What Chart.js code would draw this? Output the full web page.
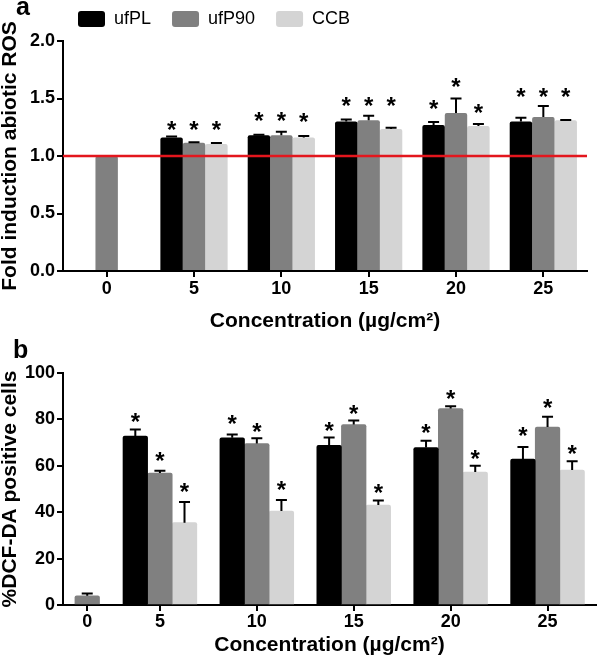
<!DOCTYPE html>
<html><head><meta charset="utf-8">
<script src="https://cdn.jsdelivr.net/npm/chart.js@4.4.0/dist/chart.umd.min.js"></script>
<style>
html,body{margin:0;padding:0;background:#fff;}
#wrap{position:relative;width:598px;height:665px;overflow:hidden;}
.pa{position:absolute;left:0;top:0;width:598px;height:334px;}
.pb{position:absolute;left:0;top:334px;width:598px;height:331px;}
</style></head><body>
<div id="wrap">
<div class="pa"><canvas id="ca"></canvas></div>
<div class="pb"><canvas id="cb"></canvas></div>
</div>
<script>
// ---------- data ----------
const seriesNames = ['ufPL', 'ufP90', 'CCB'];
const concentrations = ['0', '5', '10', '15', '20', '25'];

// Panel a: fold induction abiotic ROS
const ufPL_A  = [null, 1.16, 1.18, 1.30, 1.27, 1.30];
const ufP90_A = [1.00, 1.115, 1.18, 1.31, 1.375, 1.34];
const CCB_A   = [null, 1.105, 1.16, 1.235, 1.26, 1.31];
const ufPL_A_err  = [null, 0.01, 0.005, 0.017, 0.025, 0.032];
const ufP90_A_err = [null, 0.005, 0.03, 0.04, 0.125, 0.095];
const CCB_A_err   = [null, 0.008, 0.015, 0.01, 0.018, 0.004];
const ufPL_A_star  = [null, 1.27, 1.35, 1.48, 1.45, 1.56];
const ufP90_A_star = [null, 1.27, 1.35, 1.48, 1.64, 1.56];
const CCB_A_star   = [null, 1.27, 1.34, 1.48, 1.42, 1.56];
const yTicksA = [0, 0.5, 1.0, 1.5, 2.0];
const refLineA = 1.0;

// Panel b: %DCF-DA positive cells
const ufPL_B  = [null, 72.8, 72.1, 68.8, 67.9, 62.9];
const ufP90_B = [4.0, 56.9, 69.6, 77.8, 84.7, 76.7];
const CCB_B   = [null, 35.5, 40.5, 43.1, 57.3, 58.2];
const ufPL_B_err  = [null, 2.8, 1.4, 3.4, 2.9, 5.2];
const ufP90_B_err = [1.0, 1.0, 2.3, 1.7, 1.0, 4.4];
const CCB_B_err   = [null, 8.9, 4.8, 1.9, 2.7, 3.8];
const ufPL_B_star  = [null, 81.1, 80.0, 77.2, 76.1, 74.9];
const ufP90_B_star = [null, 64.2, 76.7, 84.4, 91.1, 87.1];
const CCB_B_star   = [null, 51.0, 51.6, 50.6, 65.0, 67.2];
const yTicksB = [0, 20, 40, 60, 80, 100];
// slot positions of the concentration groups on panel b's axis (control group is narrower)
const slotB = [0.5, 2, 4, 6, 8, 10];

const xTitle = 'Concentration (µg/cm²)';
const yTitleA = 'Fold induction abiotic ROS';
const yTitleB = '%DCF-DA positive cells';

// ---------- styling ----------
const FONT = "'Liberation Sans', Arial, Helvetica, sans-serif";
const colors = ['#000000', '#808080', '#d4d4d4'];

function overlayPlugin(errs, stars, refLine, panelLabel, labelX, labelY) {
  return {
    id: 'overlay',
    afterDatasetsDraw(chart) {
      const ctx = chart.ctx, ys = chart.scales.y, area = chart.chartArea;
      ctx.save();
      if (refLine !== null) {
        const yr = ys.getPixelForValue(refLine);
        ctx.strokeStyle = '#e3161d'; ctx.lineWidth = 2.5;
        ctx.beginPath(); ctx.moveTo(area.left, yr); ctx.lineTo(area.right, yr); ctx.stroke();
      }
      ctx.strokeStyle = '#000'; ctx.lineWidth = 2;
      chart.data.datasets.forEach((ds, di) => {
        const meta = chart.getDatasetMeta(di);
        meta.data.forEach((bar, i) => {
          const raw = ds.data[i];
          const v = (raw && typeof raw === 'object') ? raw.y : raw;
          const idx = (raw && typeof raw === 'object') ? raw.i : i;
          if (v === null || v === undefined) return;
          const e = errs[di][idx];
          if (e) {
            const y1 = ys.getPixelForValue(v + e);
            ctx.beginPath(); ctx.moveTo(bar.x, bar.y); ctx.lineTo(bar.x, y1);
            ctx.moveTo(bar.x - 5.5, y1); ctx.lineTo(bar.x + 5.5, y1); ctx.stroke();
          }
          const s = stars[di][idx];
          if (s !== null && s !== undefined) {
            ctx.fillStyle = '#000';
            ctx.font = 'bold 24px ' + FONT;
            ctx.textAlign = 'center'; ctx.textBaseline = 'alphabetic';
            ctx.fillText('*', bar.x, ys.getPixelForValue(s) + 13);
          }
        });
      });
      ctx.fillStyle = '#000';
      ctx.font = 'bold 25px ' + FONT;
      ctx.textAlign = 'left'; ctx.textBaseline = 'alphabetic';
      ctx.fillText(panelLabel, labelX, labelY);
      ctx.restore();
    }
  };
}

const legendPos = {
  id: 'legendPos',
  afterLayout(chart) {
    const lg = chart.legend;
    if (!lg || !lg.options.display) return;
    const dx = 57 - lg.left, dy = -11 - lg.top;
    lg.left += dx; lg.right += dx; lg.top += dy; lg.bottom += dy;
  }
};

function axisCommon() {
  return {
    border: { display: true, color: '#000', width: 2 },
    grid: { display: true, drawOnChartArea: false, drawTicks: true, tickLength: 6, color: '#000', lineWidth: 2, offset: false },
  };
}

// ---------- panel a ----------
new Chart(document.getElementById('ca'), {
  type: 'bar',
  data: {
    labels: concentrations,
    datasets: [
      { label: seriesNames[0], data: ufPL_A, backgroundColor: colors[0] },
      { label: seriesNames[1], data: ufP90_A, backgroundColor: colors[1] },
      { label: seriesNames[2], data: CCB_A, backgroundColor: colors[2] },
    ]
  },
  options: {
    responsive: true, maintainAspectRatio: false, animation: false,
    devicePixelRatio: 1,
    categoryPercentage: 0.77, barPercentage: 1.0,
    datasets: { bar: { borderWidth: 0, borderRadius: { topLeft: 2, topRight: 2 } } },
    layout: { padding: { left: 0, right: 11, top: 0, bottom: 0 } },
    plugins: {
      legend: {
        display: true, position: 'top', align: 'start', maxHeight: 41,
        labels: { boxWidth: 27, boxHeight: 16, padding: 21, color: '#000',
          useBorderRadius: true, borderRadius: 3,
          font: { family: FONT, size: 18, weight: 'normal' } }
      },
      tooltip: { enabled: false }
    },
    scales: {
      x: Object.assign(axisCommon(), {
        type: 'category', offset: true,
        ticks: { color: '#000', padding: 1, font: { family: FONT, size: 18, weight: 'bold' } },
        title: { display: true, text: xTitle, color: '#000', padding: { top: 0, bottom: 0 },
          font: { family: FONT, size: 21, weight: 'bold', lineHeight: 1.2 } },
        afterFit(s) { s.height = 63; }
      }),
      y: Object.assign(axisCommon(), {
        min: 0, max: 2,
        afterBuildTicks(s) { s.ticks = yTicksA.map(v => ({ value: v })); },
        ticks: { color: '#000', padding: 2, callback: v => v.toFixed(1),
          font: { family: FONT, size: 18, weight: 'bold' } },
        title: { display: true, text: yTitleA, color: '#000', padding: { top: 0, bottom: 0 },
          font: { family: FONT, size: 21, weight: 'bold', lineHeight: 1 } },
        afterFit(s) { s.width = 63; }
      })
    }
  },
  plugins: [legendPos, overlayPlugin([ufPL_A_err, ufP90_A_err, CCB_A_err],
    [ufPL_A_star, ufP90_A_star, CCB_A_star], refLineA, 'a', 16, 15)]
});

// ---------- panel b ----------
function pts(arr) {
  const out = [];
  arr.forEach((v, i) => { if (v !== null) out.push({ x: slotB[i], y: v, i: i }); });
  return out;
}
new Chart(document.getElementById('cb'), {
  type: 'bar',
  data: {
    datasets: [
      { label: seriesNames[0], data: pts(ufPL_B), backgroundColor: colors[0] },
      { label: seriesNames[1], data: pts(ufP90_B), backgroundColor: colors[1] },
      { label: seriesNames[2], data: pts(CCB_B), backgroundColor: colors[2] },
    ]
  },
  options: {
    responsive: true, maintainAspectRatio: false, animation: false,
    devicePixelRatio: 1,
    datasets: { bar: { borderWidth: 0, barThickness: 24.6, borderRadius: { topLeft: 2, topRight: 2 } } },
    layout: { padding: { left: 0, right: 2, top: 39, bottom: 0 } },
    plugins: { legend: { display: false }, tooltip: { enabled: false } },
    scales: {
      x: Object.assign(axisCommon(), {
        type: 'linear', offset: false, min: 0, max: 11,
        afterBuildTicks(s) { s.ticks = slotB.map(v => ({ value: v })); },
        ticks: { color: '#000', padding: 0, autoSkip: false, maxRotation: 0,
          callback: (v, i) => concentrations[i],
          font: { family: FONT, size: 18, weight: 'bold' } },
        title: { display: true, text: xTitle, color: '#000', padding: { top: 0, bottom: 7 },
          font: { family: FONT, size: 21, weight: 'bold', lineHeight: 1.2 } },
        afterFit(s) { s.height = 60; }
      }),
      y: Object.assign(axisCommon(), {
        min: 0, max: 100,
        afterBuildTicks(s) { s.ticks = yTicksB.map(v => ({ value: v })); },
        ticks: { color: '#000', padding: 2,
          font: { family: FONT, size: 18, weight: 'bold' } },
        title: { display: true, text: yTitleB, color: '#000', padding: { top: 0, bottom: 0 },
          font: { family: FONT, size: 21, weight: 'bold', lineHeight: 1 } },
        afterFit(s) { s.width = 63; }
      })
    }
  },
  plugins: [overlayPlugin([ufPL_B_err, ufP90_B_err, CCB_B_err],
    [ufPL_B_star, ufP90_B_star, CCB_B_star], null, 'b', 13, 24)]
});
</script>
</body></html>
